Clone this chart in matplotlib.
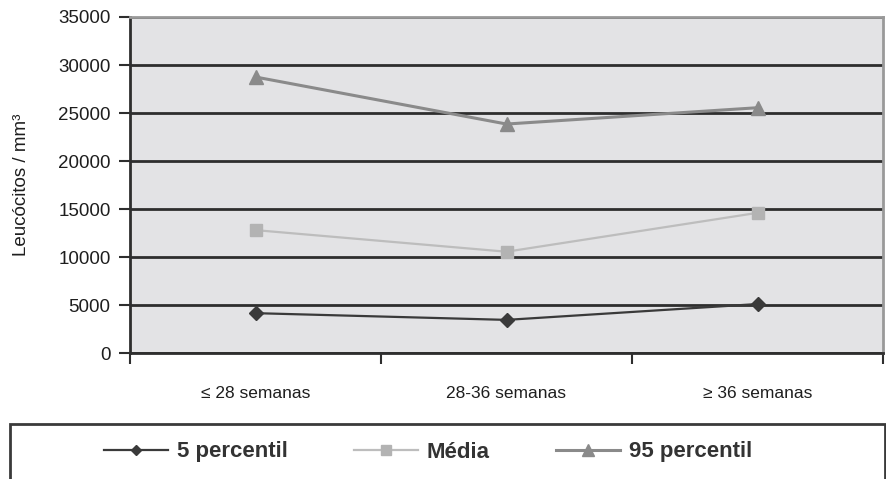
import numpy as np
import matplotlib.pyplot as plt
from matplotlib.patches import Rectangle
from matplotlib.ticker import FixedLocator, NullFormatter

plt.rcParams['font.family'] = ['Liberation Sans', 'DejaVu Sans']

categorias = ['≤ 28 semanas', '28-36 semanas', '≥ 36 semanas']
p5 = [4150, 3450, 5100]
media = [12800, 10550, 14600]
p95 = [28750, 23850, 25550]

x = np.arange(len(categorias))

fig = plt.figure(figsize=(8.86, 4.79), dpi=100)
ax = fig.add_axes([130 / 886, 126 / 479, 753 / 886, 336 / 479])
ax.set_facecolor('#e3e3e5')

ax.plot(x, p5, color='#3a3a3a', lw=1.6, marker='D', ms=7, label='5 percentil', zorder=3)
ax.plot(x, media, color='#bdbdbd', lw=1.6, marker='s', ms=9, mfc='#b3b3b3', mec='#b3b3b3',
        label='Média', zorder=3)
ax.plot(x, p95, color='#8a8a8a', lw=2.2, marker='^', ms=10, label='95 percentil', zorder=3)

ax.set_xlim(-0.5, 2.5)
ax.set_ylim(0, 35000)
ax.set_yticks(np.arange(0, 35001, 5000))
ax.yaxis.grid(True, color='#2e2e2e', lw=2)
ax.set_axisbelow(True)

ax.xaxis.set_major_locator(FixedLocator([-0.5, 0.5, 1.5, 2.5]))
ax.xaxis.set_major_formatter(NullFormatter())
ax.xaxis.set_minor_locator(FixedLocator(x))
ax.set_xticklabels(categorias, minor=True)
ax.tick_params(axis='x', which='major', length=8, width=1.5, color='#2e2e2e')
ax.tick_params(axis='x', which='minor', length=0, pad=24, labelsize=12.5, labelcolor='#1e1e1e')
ax.tick_params(axis='y', length=8, width=1.5, color='#2e2e2e', labelsize=13.5,
               labelcolor='#1e1e1e', pad=6)

for s in ['left', 'bottom']:
    ax.spines[s].set_color('#2e2e2e')
    ax.spines[s].set_linewidth(2)
for s in ['top', 'right']:
    ax.spines[s].set_color('#999999')
    ax.spines[s].set_linewidth(2)

ax.set_ylabel('Leucócitos / mm³', fontsize=13.5, color='#1e1e1e', labelpad=20)

# legend box runs past the bottom edge of the figure
fig.patches.append(Rectangle((10 / 886, -0.05), 875 / 886, 0.05 + 55 / 479,
                             transform=fig.transFigure, fill=False,
                             edgecolor='#3a3a3a', lw=2))

leg = fig.legend(loc='center', bbox_to_anchor=(428 / 886, 27 / 479), ncol=3, frameon=False,
                 handlelength=2.9, handletextpad=0.4, columnspacing=2.95, fontsize=16,
                 markerscale=0.8)
for t in leg.get_texts():
    t.set_fontweight('bold')
    t.set_color('#333333')

fig.savefig('out.png', dpi=100)
